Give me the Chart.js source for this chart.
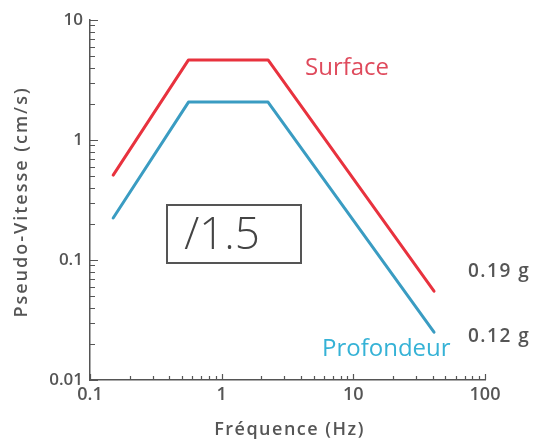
<!DOCTYPE html>
<html lang="fr">
<head>
  <meta charset="UTF-8">
  <title>Pseudo-Vitesse</title>
  <script src="https://cdn.jsdelivr.net/npm/chart.js"></script>
  <style>
    body { margin: 0; background: #fff; }
    canvas { display: block; }
  </style>
</head>
<body>
  <canvas id="chart" width="544" height="444"></canvas>

  <script>
    // Spectre en pseudo-vitesse, surface vs profondeur
    const frequencies = [0.15, 0.56, 2.25, 41];
    const surface = [0.51, 4.65, 4.65, 0.055];
    const profondeur = [0.224, 2.07, 2.07, 0.025];

    const xTickLabels = ['0.1', '1', '10', '100'];
    const yTickLabels = ['0.01', '0.1', '1', '10'];
    const xDecades = [-1, 0, 1, 2];
    const yDecades = [-2, -1, 0, 1];

    const GREY = '#555';
    const FONT = "'Open Sans', 'Noto Sans', sans-serif";

    function points(ys) {
      return frequencies.map((f, i) => ({ x: f, y: ys[i] }));
    }

    // ticks 1..9 per decade, labelled only on powers of ten
    function logTicks(decades) {
      const ticks = [];
      decades.forEach((e, i) => {
        const kMax = i === decades.length - 1 ? 1 : 9;
        for (let k = 1; k <= kMax; k++) ticks.push({ value: k * Math.pow(10, e), major: k === 1 });
      });
      return ticks;
    }

    function tickLabel(labels, decades) {
      return value => {
        const e = Math.log10(value);
        if (Math.abs(e - Math.round(e)) > 1e-6) return '';
        return labels[decades.indexOf(Math.round(e))];
      };
    }

    // inward tick marks, titles and annotations
    const decorations = {
      id: 'decorations',
      afterDraw(chart) {
        const { ctx, chartArea: a, scales: { x, y } } = chart;
        ctx.save();
        ctx.strokeStyle = GREY;
        ctx.lineWidth = 1.2;
        ctx.beginPath();
        y.ticks.forEach(t => {
          const py = Math.round(y.getPixelForValue(t.value)) + 0.5;
          ctx.moveTo(a.left, py);
          ctx.lineTo(a.left + (t.major ? 8 : 5), py);
        });
        x.ticks.forEach(t => {
          const px = Math.round(x.getPixelForValue(t.value)) + 0.5;
          ctx.moveTo(px, a.bottom);
          ctx.lineTo(px, a.bottom - (t.major ? 6 : 4));
        });
        ctx.stroke();

        // axis titles
        ctx.fillStyle = GREY;
        ctx.textAlign = 'center';
        ctx.textBaseline = 'middle';
        ctx.font = `600 18px ${FONT}`;
        ctx.letterSpacing = '1.5px';
        ctx.fillText('Fréquence (Hz)', (a.left + a.right) / 2 + 2, 430);
        ctx.save();
        ctx.translate(22, (a.top + a.bottom) / 2 + 2);
        ctx.rotate(-Math.PI / 2);
        ctx.letterSpacing = '2px';
        ctx.font = `600 18px ${FONT}`;
        ctx.fillText('Pseudo-Vitesse (cm/s)', 0, 0);
        ctx.restore();
        ctx.letterSpacing = '0px';

        // series labels
        ctx.textAlign = 'left';
        ctx.font = `24px ${FONT}`;
        ctx.fillStyle = '#df4a5c';
        ctx.fillText('Surface', 305, 68);
        ctx.fillStyle = '#35b2d6';
        ctx.fillText('Profondeur', 322, 349);

        ctx.fillStyle = GREY;
        ctx.font = `600 19px ${FONT}`;
        ctx.letterSpacing = '1.5px';
        ctx.fillText('0.19 g', 468, 272);
        ctx.fillText('0.12 g', 468, 337);
        ctx.letterSpacing = '0px';

        // ratio box
        ctx.strokeStyle = GREY;
        ctx.lineWidth = 2;
        ctx.strokeRect(167, 205, 134, 58);
        ctx.fillStyle = '#444';
        ctx.font = `300 44px ${FONT}`;
        ctx.textAlign = 'center';
        ctx.fillText('/1.5', 222, 236);
        ctx.restore();
      }
    };

    new Chart(document.getElementById('chart'), {
      type: 'line',
      data: {
        datasets: [{
          label: 'Surface',
          data: points(surface),
          borderColor: '#e8323e',
          borderWidth: 3
        }, {
          label: 'Profondeur',
          data: points(profondeur),
          borderColor: '#3a9cc2',
          borderWidth: 3
        }]
      },
      options: {
        responsive: false,
        animation: false,
        devicePixelRatio: 1,
        layout: { padding: { left: 0, right: 59, top: 20, bottom: 0 } },
        elements: { point: { radius: 0 }, line: { tension: 0, borderCapStyle: 'round', borderJoinStyle: 'round' } },
        plugins: { legend: { display: false }, tooltip: { enabled: false } },
        scales: {
          x: {
            type: 'logarithmic',
            min: 0.1,
            max: 100,
            afterBuildTicks: s => { s.ticks = logTicks(xDecades); },
            afterFit: s => { s.height = 64; },
            grid: { display: false, drawTicks: false },
            border: { display: true, color: GREY, width: 1.5 },
            ticks: {
              autoSkip: false,
              maxRotation: 0,
              padding: 4,
              color: GREY,
              font: { family: FONT, size: 18, weight: '600' },
              callback: tickLabel(xTickLabels, xDecades)
            }
          },
          y: {
            type: 'logarithmic',
            min: 0.01,
            max: 10,
            afterBuildTicks: s => { s.ticks = logTicks(yDecades); },
            afterFit: s => { s.width = 90; },
            grid: { display: false, drawTicks: false },
            border: { display: true, color: GREY, width: 1.5 },
            ticks: {
              autoSkip: false,
              padding: 7,
              color: GREY,
              font: { family: FONT, size: 17, weight: '600' },
              callback: tickLabel(yTickLabels, yDecades)
            }
          }
        }
      },
      plugins: [decorations]
    });
  </script>
</body>
</html>
